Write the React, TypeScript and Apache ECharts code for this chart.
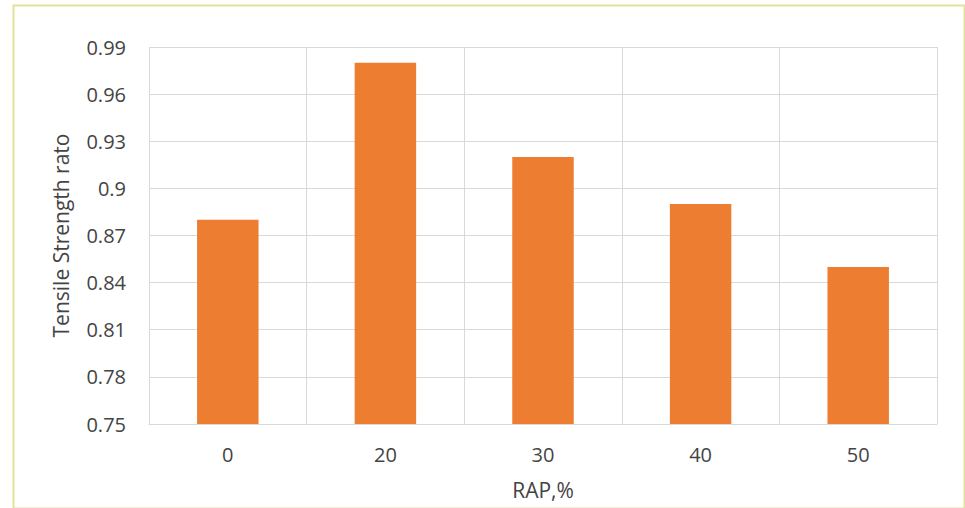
import React, { useEffect, useRef } from "react";
import * as echarts from "echarts";

const categories = ["0", "20", "30", "40", "50"];
const tensileRatio = [0.88, 0.98, 0.92, 0.89, 0.85];
const yMin = 0.75;
const yMax = 0.99;
const yStep = 0.03;

const FONT = "'Open Sans', 'Liberation Sans', sans-serif";
const TEXT = "#444444";
const GRID = "#d9d9d9";

export default function App() {
  const ref = useRef<HTMLDivElement>(null);

  useEffect(() => {
    if (!ref.current) return;
    const chart = echarts.init(ref.current, null, { renderer: "svg" });
    chart.setOption({
      animation: false,
      backgroundColor: "#ffffff",
      textStyle: { fontFamily: FONT, color: TEXT },
      grid: { left: 149, right: 28, top: 47, bottom: 84 },
      graphic: [
        {
          type: "rect",
          left: 11,
          top: 3,
          shape: { width: 951, height: 503 },
          style: { fill: "none", stroke: "#e2e29a", lineWidth: 2 },
          silent: true,
        },
      ],
      xAxis: {
        type: "category",
        data: categories,
        name: "RAP,%",
        nameLocation: "middle",
        nameGap: 55,
        nameTextStyle: { fontSize: 21, color: TEXT, fontFamily: FONT },
        axisLine: { show: true, lineStyle: { color: GRID, width: 1 } },
        axisTick: { show: false },
        axisLabel: { fontSize: 20, color: TEXT, margin: 20, fontFamily: FONT },
        splitLine: { show: true, lineStyle: { color: GRID, width: 1 } },
      },
      yAxis: {
        type: "value",
        min: yMin,
        max: yMax,
        interval: yStep,
        name: "Tensile Strength rato",
        nameLocation: "middle",
        nameGap: 78,
        nameTextStyle: { fontSize: 21, color: TEXT, fontFamily: FONT },
        axisLine: { show: false },
        axisTick: { show: false },
        axisLabel: {
          fontSize: 20,
          color: TEXT,
          margin: 23,
          fontFamily: FONT,
          formatter: (v: number) => String(parseFloat(v.toFixed(2))),
        },
        splitLine: { show: true, lineStyle: { color: GRID, width: 1 } },
      },
      series: [
        {
          type: "bar",
          data: tensileRatio,
          barWidth: "39%",
          itemStyle: { color: "#ED7D31" },
        },
      ],
    });
    return () => chart.dispose();
  }, []);

  return (
    <div
      ref={ref}
      style={{ position: "fixed", left: 0, top: 0, width: 965, height: 508 }}
    />
  );
}
